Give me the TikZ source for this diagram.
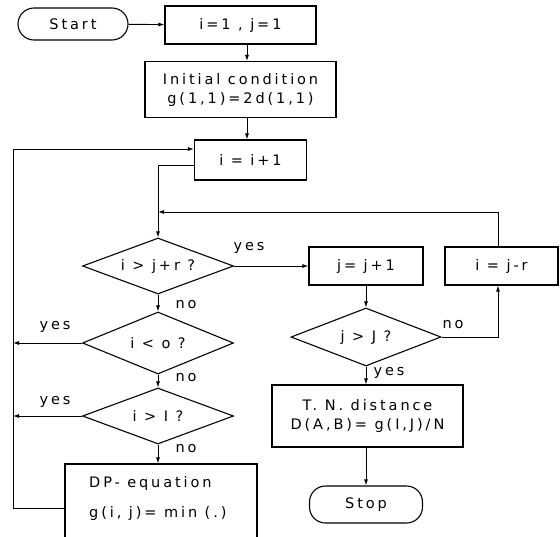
\documentclass[tikz,border=0pt]{standalone}
\usepackage{fontspec}
\setmainfont{DejaVu Sans}[LetterSpace=20]
\usetikzlibrary{shapes.geometric,arrows.meta}
\begin{document}
\begin{tikzpicture}[x=1pt,y=-1pt,
  every node/.style={font=\fontsize{14.5}{19}\selectfont},
  box/.style={draw,line width=1.1pt,rectangle,inner sep=0pt},
  term/.style={box,rounded corners=16pt},
  dec/.style={draw,line width=1.1pt,diamond,aspect=2.7,inner sep=0pt},
  lab/.style={inner sep=0pt},
  con/.style={line width=0.9pt},
  arr/.style={con,-{Latex[length=6pt,width=4pt]}},
]
\useasboundingbox (0,0) rectangle (560,536);
% helper coordinates
\coordinate (xa) at (247,0);
\coordinate (xloop) at (13,0);
\coordinate (xm) at (158,0);
\coordinate (xr) at (498,0);
\coordinate (ytop) at (0,149);
\coordinate (yexit) at (0,165);
\coordinate (ymerge) at (0,212);
\coordinate (ydp) at (0,508);
% nodes
\node[term,minimum width=110pt,minimum height=32pt] (start) at (73,24) {Start};
\node[box,minimum width=151pt,minimum height=38pt] (init) at (240.5,25) {i=1 , j=1};
\node[box,minimum width=191pt,minimum height=56pt,align=center] (cond) at (240.5,89.5) {Initial condition\\ g(1,1)=2d(1,1)};
\node[box,minimum width=112pt,minimum height=40pt] (inc) at (250.5,160) {i = i+1};
\node[dec,minimum width=151pt,minimum height=56pt] (d1) at (158,266) {i > j+r ?};
\node[dec,minimum width=151pt,minimum height=62pt] (d2) at (158,343) {i < o ?};
\node[dec,minimum width=151pt,minimum height=56pt] (d3) at (158,416) {i > I ?};
\node[box,minimum width=192pt,minimum height=80pt] (dp) at (161,504) {};
\node[lab,anchor=west] (dpa) at (89,483) {DP- equation};
\node[lab,anchor=west] (dpb) at (89,513) {g(i, j)= min (.)};
\node[box,minimum width=114pt,minimum height=38pt] (jinc) at (366,266) {j= j+1};
\node[box,minimum width=113pt,minimum height=38pt] (ijr) at (501.5,266) {i = j-r};
\node[dec,minimum width=150pt,minimum height=58pt] (d4) at (366,337) {j > J ?};
\node[box,minimum width=191pt,minimum height=62pt,align=center] (tn) at (367.5,416) {T. N. distance\\ D(A,B)= g(I,J)/N};
\node[term,minimum width=113pt,minimum height=37pt] (stop) at (366,504.5) {Stop};
% labels
\node[lab] (y1) at (249,248) {yes};
\node[lab] (n1) at (186,305) {no};
\node[lab] (y2) at (55,327) {yes};
\node[lab] (n2) at (186,378) {no};
\node[lab] (y3) at (55,402) {yes};
\node[lab] (n3) at (186,449) {no};
\node[lab] (n4) at (453,325) {no};
\node[lab] (y4) at (389,373) {yes};
% connectors
\draw[arr] (start) -- (init);
\draw[arr] (init.south -| xa) -- (cond.north -| xa);
\draw[arr] (cond.south -| xa) -- (inc.north -| xa);
\draw[arr] (dp.west |- ydp) -- (xloop |- ydp) -- (xloop |- ytop) -- (inc.west |- ytop);
\draw[arr] (inc.west |- yexit) -- (xm |- yexit) -- (d1.north);
\draw[arr] (ijr.north -| xr) -- (xr |- ymerge) -- (xm |- ymerge);
\draw[arr] (d1.east) -- (jinc.west);
\draw[arr] (jinc.south) -- (d4.north);
\draw[arr] (d4.east) -- (xr |- d4.east) -- (ijr.south -| xr);
\draw[arr] (d1.south) -- (d2.north);
\draw[arr] (d2.west) -- (xloop |- d2.west);
\draw[arr] (d2.south) -- (d3.north);
\draw[arr] (d3.west) -- (xloop |- d3.west);
\draw[arr] (d3.south) -- (d3.south |- dp.north);
\draw[arr] (d4.south) -- (d4.south |- tn.north);
\draw[arr] (tn.south -| stop.north) -- (stop.north);
\end{tikzpicture}
\end{document}
